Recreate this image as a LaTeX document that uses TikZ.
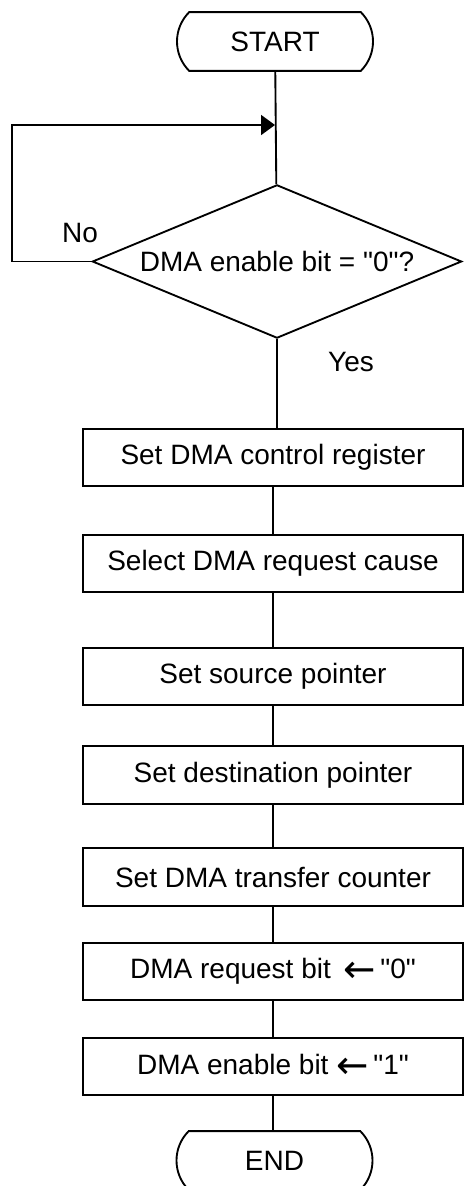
\documentclass[tikz,border=0pt]{standalone}
\usepackage{fontspec}
\setmainfont{Liberation Sans}[Ligatures=TeXOff]
\newfontfamily\arrowfont{DejaVu Sans}
\newcommand{\setarrow}{\raisebox{-3pt}{\arrowfont\fontsize{29}{25}\selectfont ←}}
\usetikzlibrary{shapes.geometric,shapes.misc,arrows.meta,positioning}

\begin{document}
\begin{tikzpicture}[x=0.75pt,y=0.75pt,yscale=-1,xscale=1,
  every node/.style={font=\fontsize{21}{25}\selectfont},
  term/.style={draw,line width=1.4pt,rounded rectangle,rounded rectangle arc length=90,
    minimum width=147pt,minimum height=44pt,inner sep=0pt},
  proc/.style={draw,line width=1.4pt,rectangle,minimum width=285pt,minimum height=43pt,inner sep=0pt},
  dec/.style={draw,line width=1.4pt,diamond,aspect=2.42,minimum width=277pt,minimum height=115pt,inner sep=0pt},
  lbl/.style={inner sep=0.75pt},
  flow/.style={line width=1.4pt},
  arr/.style={line width=1.4pt,-{Triangle[length=10.5pt,width=15pt]}}]
\useasboundingbox (0,0) rectangle (464,1186);

% terminals and decision
\node[term] (start) at (275,41.5) {START};
\node[dec] (dmaen) at (277,261.5) {DMA enable bit = "0"?};
\coordinate (join) at (275,125);

% process boxes
\node[proc] (ctrl) at (273,457.5) {Set DMA control register};
\node[proc] (cause) at (273,563.5) {Select DMA request cause};
\node[proc] (src) at (273,676.5) {Set source pointer};
\node[proc] (dst) at (273,775) {Set destination pointer};
\node[proc] (cnt) at (273,877) {Set DMA transfer counter};
\node[proc] (req) at (273,971.5) {DMA request bit \,\setarrow\,"0"};
\node[proc] (en) at (273,1066.5) {DMA enable bit \setarrow\,"1"};
\node[term] (end) at (274.5,1160.5) {END};

% labels
\node[lbl] (no) at (80,233) {No};
\node[lbl] (yes) at (351,362) {Yes};

% connectors
\draw[flow] (start) -- (dmaen);
\draw[arr] (dmaen.west) -- ++(-79,0) |- (join);
\draw[flow] (dmaen.south) -- (dmaen.south |- ctrl.north);
\draw[flow] (ctrl) -- (cause);
\draw[flow] (cause) -- (src);
\draw[flow] (src) -- (dst);
\draw[flow] (dst) -- (cnt);
\draw[flow] (cnt) -- (req);
\draw[flow] (req) -- (en);
\draw[flow] (en.south) -- (en.south |- end.north);

\end{tikzpicture}
\end{document}
